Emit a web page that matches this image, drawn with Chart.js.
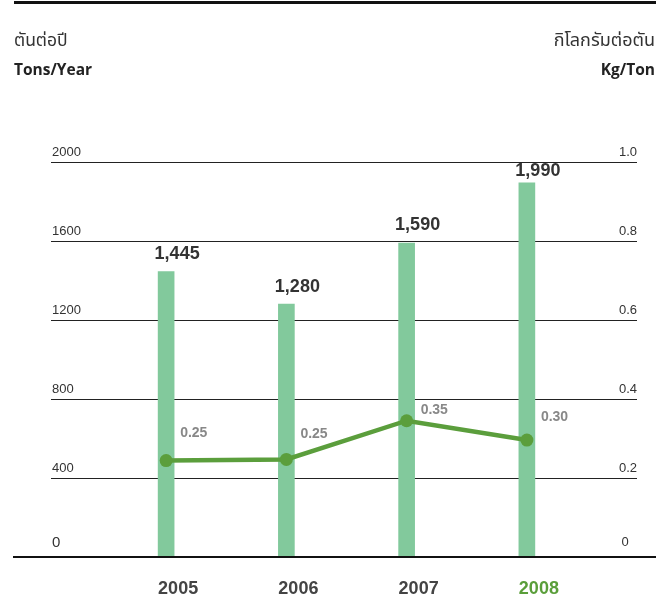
<!DOCTYPE html>
<html>
<head>
<meta charset="utf-8">
<script src="https://cdn.jsdelivr.net/npm/chart.js@4.4.1/dist/chart.umd.min.js"></script>
<style>
  html, body { margin: 0; padding: 0; background: #fff; }
  #wrap { position: relative; width: 656px; height: 616px; }
</style>
</head>
<body>
<div id="wrap"><canvas id="c" width="656" height="616"></canvas></div>
<script>
// ---- data ----
const categories = ['2005', '2006', '2007', '2008'];
const tonsValues = [1445, 1280, 1590, 1895];
const tonsLabels = ['1,445', '1,280', '1,590', '1,990'];
const kgPerTonValues = [0.244, 0.247, 0.345, 0.296];
const kgPerTonLabels = ['0.25', '0.25', '0.35', '0.30'];
const leftTicks = [0, 400, 800, 1200, 1600, 2000];
const rightTicks = ['0', '0.2', '0.4', '0.6', '0.8', '1.0'];
const leftTitleTh = 'ตันต่อปี';
const leftTitleEn = 'Tons/Year';
const rightTitleTh = 'กิโลกรัมต่อตัน';
const rightTitleEn = 'Kg/Ton';

const BAR = '#82c99c';
const LINE = '#5b9e3c';
const THAI_FONT = '"Noto Sans Thai", "Noto Sans", "DejaVu Sans", sans-serif';
const NUM_FONT = '"Liberation Sans", Arial, sans-serif';

const decor = {
  id: 'decor',
  beforeDatasetsDraw(chart) {
    const ctx = chart.ctx;
    const y = chart.scales.y;
    ctx.save();
    ctx.strokeStyle = '#222';
    ctx.lineWidth = 1;
    leftTicks.forEach((t, i) => {
      if (i === 0) return;
      const py = Math.round(y.getPixelForValue(t)) + 0.5;
      ctx.beginPath();
      ctx.moveTo(51, py);
      ctx.lineTo(637, py);
      ctx.stroke();
    });
    ctx.restore();
  },
  afterDraw(chart) {
    const ctx = chart.ctx;
    const y = chart.scales.y;
    const x = chart.scales.x;
    const y1 = chart.scales.y1;
    const area = chart.chartArea;
    ctx.save();
    // top rule
    ctx.fillStyle = '#111';
    ctx.fillRect(14, 1, 642, 3);
    // baseline
    const by = y.getPixelForValue(0);
    ctx.fillRect(13, Math.round(by) - 1, 643, 2);

    // titles
    ctx.fillStyle = '#333';
    ctx.textBaseline = 'middle';
    ctx.textAlign = 'left';
    ctx.font = '17.5px ' + THAI_FONT;
    ctx.fillText(leftTitleTh, 14, 42);
    ctx.textAlign = 'right';
    ctx.font = '18px ' + THAI_FONT;
    ctx.fillText(rightTitleTh, 655, 42);
    ctx.fillStyle = '#222';
    ctx.font = 'bold 15.5px "Open Sans", sans-serif';
    ctx.textAlign = 'left';
    ctx.fillText(leftTitleEn, 14, 71);
    ctx.textAlign = 'right';
    ctx.fillText(rightTitleEn, 655, 71);

    // tick labels
    ctx.fillStyle = '#333';
    leftTicks.forEach((t, i) => {
      const py = y.getPixelForValue(t);
      ctx.textAlign = 'left';
      if (i === 0) {
        ctx.font = '15px ' + NUM_FONT;
        ctx.fillText(String(t), 52, py - 14.5);
      } else {
        ctx.font = '13px ' + NUM_FONT;
        ctx.fillText(String(t), 52, py - 10);
      }
    });
    rightTicks.forEach((t, i) => {
      const py = y1.getPixelForValue(i * 0.2);
      ctx.font = '13px ' + NUM_FONT;
      if (i === 0) {
        ctx.textAlign = 'center';
        ctx.fillText(t, 625, py - 14.5);
      } else {
        ctx.textAlign = 'right';
        ctx.fillText(t, 637, py - 9.5);
      }
    });

    // bar value labels
    ctx.font = 'bold 18px ' + NUM_FONT;
    ctx.fillStyle = '#333';
    ctx.textAlign = 'center';
    tonsValues.forEach((v, i) => {
      const px = x.getPixelForValue(i);
      const top = y.getPixelForValue(v);
      const ly = Math.max(top - 17.5, area.top + 9);
      ctx.fillText(tonsLabels[i], px + 11, ly);
    });

    // line value labels
    const lineOff = [-27, -25, -11, -23];
    ctx.font = 'bold 14px ' + NUM_FONT;
    ctx.fillStyle = '#888';
    ctx.textAlign = 'left';
    kgPerTonValues.forEach((v, i) => {
      const px = x.getPixelForValue(i);
      const py = y1.getPixelForValue(v);
      ctx.fillText(kgPerTonLabels[i], px + 14, py + lineOff[i]);
    });

    // category labels
    ctx.font = 'bold 18px ' + NUM_FONT;
    categories.forEach((c, i) => {
      const px = x.getPixelForValue(i);
      ctx.fillStyle = i === categories.length - 1 ? '#5a9e3a' : '#444';
      ctx.textAlign = 'center';
      ctx.fillText(c, px + 12, 589);
    });
    ctx.restore();
  }
};

new Chart(document.getElementById('c'), {
  type: 'bar',
  data: {
    labels: categories,
    datasets: [
      {
        type: 'line',
        data: kgPerTonValues,
        yAxisID: 'y1',
        borderColor: LINE,
        backgroundColor: LINE,
        borderWidth: 4.5,
        pointRadius: 6.5,
        pointHoverRadius: 6.5,
        pointBackgroundColor: LINE,
        pointBorderWidth: 0,
        tension: 0,
        order: 0
      },
      {
        type: 'bar',
        data: tonsValues,
        yAxisID: 'y',
        backgroundColor: BAR,
        borderWidth: 0,
        barThickness: 16,
        order: 1
      }
    ]
  },
  options: {
    responsive: false,
    animation: false,
    devicePixelRatio: 1,
    layout: { padding: { left: 106, right: 69, top: 162, bottom: 59 } },
    plugins: { legend: { display: false }, tooltip: { enabled: false } },
    scales: {
      x: { display: false, offset: true },
      y: { display: false, min: 0, max: 2000 },
      y1: { display: false, min: 0, max: 1, position: 'right' }
    }
  },
  plugins: [decor]
});
</script>
</body>
</html>
